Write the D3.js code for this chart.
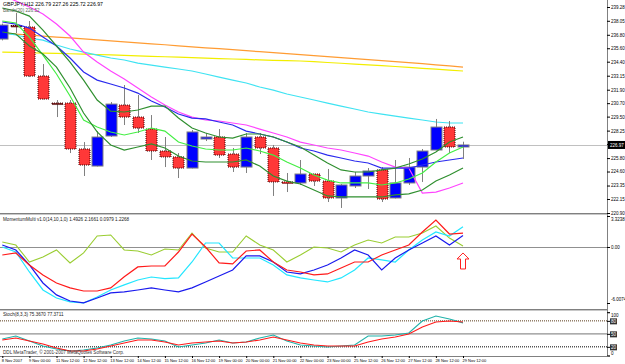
<!DOCTYPE html>
<html>
<head>
<meta charset="utf-8">
<script src="https://cdn.jsdelivr.net/npm/d3@7"></script>
<style>
body{margin:0;background:#fff}
svg{display:block}
</style>
</head>
<body>
<svg id="chart"></svg>
<script>
// GBPJPY H12, 35 bars
const tickLabels = ['8 Nov 2007','9 Nov 00:00','11 Nov 12:00','12 Nov 12:00','13 Nov 12:00','14 Nov 12:00','15 Nov 12:00','16 Nov 12:00','19 Nov 00:00','20 Nov 00:00','21 Nov 00:00','22 Nov 00:00','23 Nov 00:00','25 Nov 12:00','26 Nov 12:00','27 Nov 12:00','28 Nov 12:00','29 Nov 12:00']
const priceTicks = [239.28,238.05,236.80,235.60,234.40,233.15,231.90,230.70,229.50,228.25,227.05,225.80,224.60,223.35,222.15,220.90]

const open  = [236.42,237.63,237.49,233.12,230.71,230.71,226.61,225.09,227.77,230.53,229.46,228.39,226.43,225.90,224.91,227.50,227.68,226.16,225.00,227.68,226.70,223.67,223.58,224.38,223.75,222.24,223.31,224.20,224.74,222.24,223.58,225.00,226.52,228.57,226.79]
const high  = [237.80,238.74,238.03,234.19,230.98,230.98,227.23,228.21,230.80,232.32,231.43,229.64,227.68,226.25,228.30,228.04,228.39,226.70,228.04,228.04,226.97,224.47,225.63,224.40,224.83,223.49,224.56,224.91,225.00,225.63,225.81,226.61,229.29,229.11,227.26]
const low   = [236.30,236.96,233.03,231.03,229.46,226.25,224.20,225.05,227.68,228.75,228.04,225.63,225.00,224.02,224.88,227.32,225.81,224.56,224.47,226.16,222.42,222.77,223.40,223.31,221.88,221.35,223.13,223.04,221.88,222.20,223.40,223.67,226.50,226.25,225.72]
const close = [237.67,237.60,233.12,231.07,230.69,226.61,225.18,227.68,230.62,229.46,228.48,226.43,225.90,224.91,228.13,227.68,226.07,225.00,227.68,226.70,223.67,223.58,224.38,223.75,222.24,223.40,224.20,224.65,222.15,223.58,225.00,226.43,228.57,226.79,226.97]

const maOrange  = [236.95,236.86,236.78,236.69,236.60,236.52,236.43,236.34,236.25,236.16,236.08,235.99,235.91,235.82,235.73,235.64,235.56,235.47,235.38,235.29,235.21,235.12,235.03,234.94,234.85,234.76,234.67,234.58,234.49,234.40,234.31,234.22,234.12,234.02,233.92]
const maYellow  = [235.26,235.23,235.20,235.17,235.14,235.11,235.08,235.04,235.00,234.96,234.92,234.88,234.84,234.80,234.76,234.72,234.68,234.64,234.60,234.56,234.52,234.49,234.46,234.40,234.33,234.26,234.19,234.12,234.05,233.97,233.89,233.81,233.73,233.65,233.57]
const maCyan    = [236.96,236.78,236.51,236.33,235.89,235.53,235.26,234.99,234.73,234.55,234.28,234.10,233.92,233.75,233.57,233.30,233.03,232.76,232.50,232.14,231.87,231.52,231.25,230.98,230.71,230.44,230.18,229.91,229.73,229.55,229.37,229.20,229.02,228.93,228.93]
const maMagenta = [240.35,239.81,239.28,238.65,237.76,236.69,235.26,234.37,233.57,232.85,232.05,231.25,230.53,229.91,229.46,229.20,229.11,228.93,228.75,228.39,228.04,227.68,227.23,226.97,226.70,226.52,226.25,225.98,225.45,225.00,224.91,222.68,222.77,223.13,223.58]
const maBlue    = [237.94,237.76,237.40,236.60,235.80,234.73,233.48,232.76,232.41,232.05,231.60,230.89,230.36,229.73,229.37,229.29,229.02,228.75,228.21,227.95,227.68,227.23,226.70,226.43,226.07,225.81,225.54,225.36,224.91,224.91,224.91,225.18,225.45,225.63,225.81]
const greenUpper = [239.19,238.92,238.47,237.22,235.80,234.37,232.76,230.98,229.99,229.91,230.09,230.44,230.44,229.37,228.48,228.04,227.68,227.59,227.95,227.95,227.68,227.23,226.79,226.07,225.36,224.74,224.56,224.56,224.74,224.91,225.27,225.72,226.34,227.23,227.68]
const limeMid    = [238.03,237.85,236.60,234.99,233.30,231.34,229.20,228.57,228.13,227.86,228.13,228.48,228.21,227.23,226.88,226.61,226.52,226.52,226.70,226.43,226.07,225.45,224.91,224.29,223.84,223.58,223.58,223.58,223.40,223.58,223.93,224.47,225.45,226.25,226.79]
const greenLower = [237.05,236.87,235.80,235.08,233.92,232.05,229.82,228.13,226.97,226.52,226.79,227.06,226.70,225.98,225.54,225.45,225.45,225.45,225.63,225.09,224.20,223.75,223.49,222.95,222.42,222.33,222.33,222.33,222.33,222.51,222.60,222.95,223.75,224.29,224.91]

const momOlive = [0.54,0.21,-1.61,-1.07,-0.32,-1.71,-0.64,1.18,1.29,-0.32,-0.43,-0.86,-0.21,-0.32,1.50,-0.11,-0.54,-0.54,1.18,0.21,-0.32,-1.61,-0.86,0.00,-0.11,-0.54,0.21,0.75,0.43,1.07,1.07,1.50,2.25,0.96,0.0979]
const momRed   = [-0.86,-0.64,-1.93,-3.00,-3.86,-4.39,-4.72,-4.72,-4.39,-3.20,-2.14,-2.04,-2.04,-0.54,1.39,0.00,-1.71,-1.82,-0.43,-0.32,-1.61,-2.47,-2.68,-3.00,-2.89,-2.25,-1.61,-1.61,-0.86,-0.32,0.21,1.61,2.89,1.39,1.4926]
const momCyan  = [0.00,-0.54,-2.68,-4.61,-5.47,-5.89,-6.00,-5.36,-4.61,-4.07,-3.54,-3.22,-3.40,-3.32,-1.61,0.43,0.43,-1.18,-1.18,-1.18,-1.93,-3.00,-3.32,-3.54,-3.75,-3.32,-2.47,-1.18,-1.39,-1.61,-0.32,0.75,1.61,1.18,2.1661]
const momBlue  = [0.21,-0.32,-1.93,-3.86,-5.14,-5.79,-6.00,-5.47,-4.93,-4.82,-4.61,-4.39,-4.61,-4.82,-4.39,-3.75,-3.11,-2.47,-0.96,-0.96,-1.61,-2.68,-2.89,-2.47,-1.93,-1.18,-0.32,-0.86,-2.47,-1.18,-0.32,0.43,1.18,0.21,1.2268]
const momTicks = [3.3238,0,-6.0074]

const stochK = [38.1,45.0,33.5,21.9,15.0,10.4,12.7,17.3,24.2,33.5,40.4,38.1,33.5,19.6,24.2,28.9,35.8,28.9,31.2,40.4,47.3,33.5,24.2,21.9,19.6,21.9,24.2,45.0,45.0,47.3,52.0,79.7,91.2,84.3,75.367]
const stochD = [35.8,40.4,33.5,26.6,17.3,10.4,10.4,15.0,21.9,28.9,35.8,35.8,31.2,24.2,28.9,31.2,33.5,28.9,31.2,35.8,42.7,35.8,28.9,24.2,21.9,21.9,21.9,31.2,38.1,42.7,49.7,65.8,77.4,79.7,77.3711]
const stochTicks = [100,80,50,20,0]

const width = 625
const height = 364
const chartRight = 607
const font = 'Liberation Sans, Arial, sans-serif'
const axisFont = 4.5

const svg = d3.select('#chart')
    .attr('width', width).attr('height', height)
    .style('background', '#fff')
    .style('font-family', font)

const n = close.length
const X = d3.scaleLinear().domain([0, n-1]).range([2.3, 463])
const Yp = d3.scaleLinear().domain([220.90, 239.28]).range([213, 7])
const Ym = d3.scaleLinear().domain([-6.0074, 3.3238]).range([303, 216])
const Ys = d3.scaleLinear().domain([0, 100]).range([355.5, 312.2])

// clip paths for the three panes
const defs = svg.append('defs')
function clip(id, y0, y1){
    defs.append('clipPath').attr('id', id)
        .append('rect').attr('x', 0).attr('y', y0).attr('width', chartRight).attr('height', y1-y0)
}
clip('cMain', 0, 213)
clip('cMom', 214, 309)
clip('cSto', 311, 356)

// pane borders
const frame = svg.append('g')
;[213, 214, 309, 310, 356].forEach((y, i) => {
    frame.append('line').attr('x1', 0).attr('x2', chartRight).attr('y1', y+0.5).attr('y2', y+0.5)
        .attr('stroke', i % 2 ? '#c8c8c8' : '#808080')
})

// ---- main pane
const main = svg.append('g').attr('clip-path', 'url(#cMain)')
main.append('line')
    .attr('x1', 0).attr('x2', chartRight)
    .attr('y1', Math.round(Yp(close[n-1]))+0.5).attr('y2', Math.round(Yp(close[n-1]))+0.5)
    .attr('stroke', '#c0c0c0')

const priceLine = d3.line().x((d, i) => X(i)).y(d => Yp(d))
function addLine(g, data, color, gen, w){
    g.append('path').attr('d', (gen || priceLine)(data))
        .attr('fill', 'none').attr('stroke', color).attr('stroke-width', w || 1.2)
}
addLine(main, maOrange, '#ff9c33')
addLine(main, maYellow, '#f2ee00')
addLine(main, maCyan, '#3fe3f2')

// candles
const candle = main.append('g').selectAll('g').data(d3.range(n)).enter().append('g')
candle.append('line')
    .attr('x1', i => Math.round(X(i))+0.5).attr('x2', i => Math.round(X(i))+0.5)
    .attr('y1', i => Yp(high[i])).attr('y2', i => Yp(low[i]))
    .attr('stroke', '#808080')
candle.append('rect')
    .attr('x', i => Math.round(X(i))-5)
    .attr('width', 11)
    .attr('y', i => Yp(Math.max(open[i], close[i])))
    .attr('height', i => Math.max(1.5, Math.abs(Yp(open[i]) - Yp(close[i]))))
    .attr('fill', i => close[i] > open[i] ? '#0000ff' : (Math.abs(close[i]-open[i]) < 0.05 ? '#802020' : '#ff3838'))
    .attr('stroke', i => close[i] > open[i] ? '#808080' : '#400000')
    .attr('stroke-dasharray', i => close[i] > open[i] ? null : '1,1')
    .attr('stroke-width', 1)

addLine(main, maMagenta, '#ff44ff')
addLine(main, maBlue, '#2a2aee')
addLine(main, greenUpper, '#2f8f2f')
addLine(main, limeMid, '#44ee44')
addLine(main, greenLower, '#2f8f2f')

// price axis
const yAxis = d3.axisRight(Yp).tickValues(priceTicks).tickSize(3).tickPadding(1).tickFormat(d3.format('.2f'))
const yAxisG = svg.append('g').attr('transform', `translate(${chartRight},0)`).call(yAxis)

// current price box
const cp = Yp(close[n-1])
svg.append('rect').attr('x', chartRight+1).attr('y', cp-4).attr('width', 18).attr('height', 8).attr('fill', '#000')
svg.append('text').attr('x', chartRight+3).attr('y', cp+1.7).text(close[n-1].toFixed(2))
    .attr('fill', '#fff').attr('font-size', axisFont)

svg.append('text').attr('x', 3).attr('y', 6).attr('font-size', 5.2).attr('fill', '#000')
    .text(`GBPJPY,H12 ${open[n-1].toFixed(2)} ${high[n-1].toFixed(2)} ${low[n-1].toFixed(2)} ${close[n-1].toFixed(2)}`)
svg.append('text').attr('x', 3).attr('y', 11.5).attr('font-size', 4.6).attr('fill', '#556655')
    .text('Bands(20) 226.52')

// ---- momentum pane
const mom = svg.append('g').attr('clip-path', 'url(#cMom)')
mom.append('line').attr('x1', 0).attr('x2', chartRight).attr('y1', Ym(0)+0.5).attr('y2', Ym(0)+0.5)
    .attr('stroke', '#909090').attr('stroke-width', 1.2)
const momLine = d3.line().x((d, i) => X(i)).y(d => Ym(d))
addLine(mom, momOlive, '#9acd32', momLine, 1.1)
addLine(mom, momCyan, '#22e6ff', momLine, 1.2)
addLine(mom, momBlue, '#1a1aee', momLine, 1.2)
addLine(mom, momRed, '#ff1a1a', momLine, 1.2)

// red up arrow
mom.append('path')
    .attr('transform', `translate(${X(n-1)},${Ym(-1.5)})`)
    .attr('d', 'M0,-8 L6,-2 L2.5,-2 L2.5,8 L-2.5,8 L-2.5,-2 L-6,-2 Z')
    .attr('fill', '#fff').attr('stroke', '#ff2020').attr('stroke-width', 1)

svg.append('text').attr('x', 3).attr('y', 221).attr('font-size', 4.6).attr('fill', '#222')
    .text(`MomentumMulti v1.0(14,10,1,0) ${momRed[n-1].toFixed(4)} ${momCyan[n-1].toFixed(4)} ${momOlive[n-1].toFixed(4)} ${momBlue[n-1].toFixed(4)}`)

const momAxis = d3.axisRight(Ym).tickValues(momTicks).tickSize(3).tickPadding(1)
    .tickFormat(d => d === 0 ? '0.00' : d.toFixed(4))
const momAxisG = svg.append('g').attr('transform', `translate(${chartRight},0)`).call(momAxis)
momAxisG.selectAll('.tick text').attr('dy', d => d > 0 ? '0.9em' : (d < 0 ? '-0.5em' : '0.32em'))

// ---- stochastic pane
const sto = svg.append('g').attr('clip-path', 'url(#cSto)')
sto.append('line').attr('x1', 0).attr('x2', chartRight).attr('y1', Ys(80)).attr('y2', Ys(80))
    .attr('stroke', '#5a3a1a').attr('stroke-dasharray', '1,1')
sto.append('line').attr('x1', 0).attr('x2', chartRight).attr('y1', Ys(50)).attr('y2', Ys(50))
    .attr('stroke', '#909090').attr('stroke-width', 1.2)
sto.append('line').attr('x1', 0).attr('x2', chartRight).attr('y1', Ys(20)).attr('y2', Ys(20))
    .attr('stroke', '#000').attr('stroke-dasharray', '1,1')
const stoLine = d3.line().x((d, i) => X(i)).y(d => Ys(d))
addLine(sto, stochK, '#20b2aa', stoLine, 1.1)
addLine(sto, stochD, '#ff1a1a', stoLine, 1.1)

svg.append('text').attr('x', 3).attr('y', 316).attr('font-size', 4.6).attr('fill', '#222')
    .text(`Stoch(8,3,3) ${stochK[n-1].toFixed(4)} ${stochD[n-1].toFixed(4)}`)

const stoAxis = d3.axisRight(Ys).tickValues(stochTicks).tickSize(3).tickPadding(1)
const stoAxisG = svg.append('g').attr('transform', `translate(${chartRight},0)`).call(stoAxis)
stoAxisG.selectAll('.tick').filter(d => d > 0 && d < 100).insert('rect', 'text')
    .attr('x', 3).attr('y', -3).attr('width', 7).attr('height', 6).attr('fill', '#333')
stoAxisG.selectAll('.tick text').attr('fill', d => d > 0 && d < 100 ? '#fff' : '#000')
    .attr('dy', d => d === 100 ? '0.9em' : (d === 0 ? '-0.3em' : '0.32em'))

svg.append('text').attr('x', 3).attr('y', 354).attr('font-size', 4.6).attr('fill', '#333')
    .text('DDL MetaTrader, \u00a9 2001-2007 MetaQuotes Software Corp.')

// ---- time axis
const xAxis = d3.axisBottom(X).tickValues(tickLabels.map((d, i) => i*2))
    .tickSize(2).tickPadding(1).tickFormat(i => tickLabels[i/2])
const xAxisG = svg.append('g').attr('transform', 'translate(0,356)').call(xAxis)
xAxisG.selectAll('.tick text').attr('text-anchor', 'start').attr('dx', -1)
xAxisG.select('.domain').remove()

// shared axis styling
svg.selectAll('.tick text').attr('font-size', axisFont).attr('font-family', font)
xAxisG.selectAll('.tick text').attr('font-size', 4)
svg.selectAll('.tick line').attr('stroke', '#000')
yAxisG.select('.domain').attr('stroke', '#808080').attr('d', `M0.5,0V356`)
momAxisG.select('.domain').attr('stroke', '#808080')
stoAxisG.select('.domain').attr('stroke', '#808080')
</script>
</body>
</html>
